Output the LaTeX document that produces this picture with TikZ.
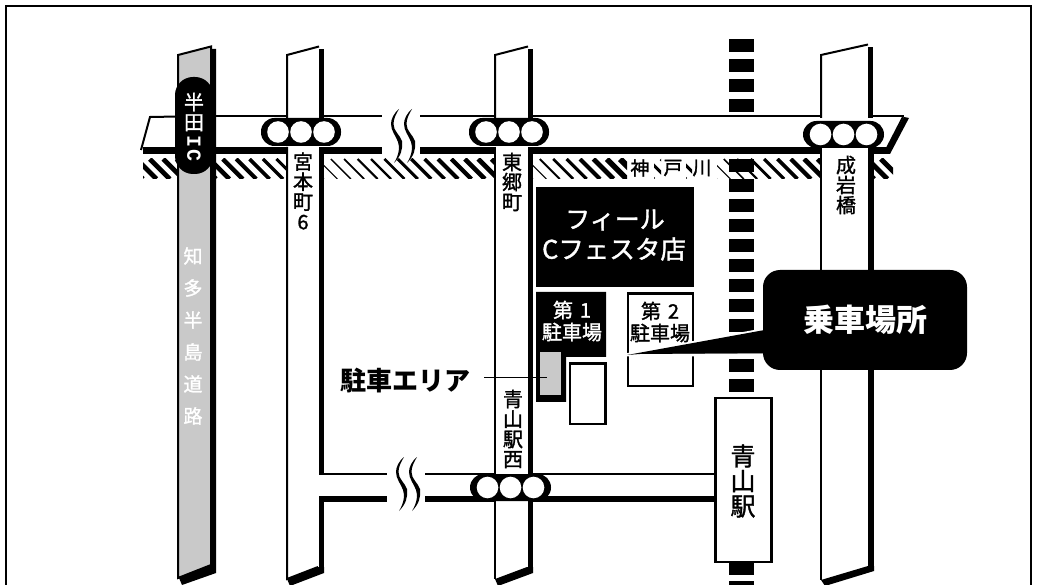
\documentclass[tikz,border=0pt]{standalone}
\usepackage{fontspec}
\setmainfont{Noto Sans CJK JP}
\newfontfamily\medf{Noto Sans CJK JP}[FakeBold=1.4]
\newfontfamily\icfont{Liberation Mono}
\definecolor{roadgray}{HTML}{C9C9C9}
\newcommand{\fsz}[1]{\fontsize{#1}{#1}\selectfont}
\newcommand{\hatchsec}[4]{%
  \begin{scope}
    \clip (#1,159) rectangle (#2,179);
    \foreach \k in {0,...,60}{
      \pgfmathsetmacro{\hx}{#1-20+13.4*\k}
      \pgfmathsetmacro{\hw}{#3+(#4-#3)*max(0,min(1,(\hx+10-#1)/(#2-#1)))}
      \ifdim\hx pt<#2pt
        \draw[line width=\hw pt] (\hx,159) -- (\hx+20,179);
      \fi
    }
  \end{scope}}
\newcommand{\squig}[2]{%
  \fill[black,shift={(#1,#2)}] (0,0) .. controls (-5,4) and (-8,10) .. (-8,15)
    .. controls (-8,22) and (-3,27) .. (-1,33) .. controls (1,38) and (0,46) .. (-5,54)
    .. controls (2,47) and (4,40) .. (3,32) .. controls (1,26) and (-5.5,22) .. (-5.5,15)
    .. controls (-5.5,10) and (-3,5) .. (0,0) -- cycle;}
\newcommand{\roadupper}[3]{% xl xr topright y
  \fill[white] (#1,55) -- (#2,#3) -- (#2,118) -- (#1,118) -- cycle;
  \draw[thinln] (#1,118) -- (#1,55) -- (#2,#3);
  \draw[thickln] (#2+2.5,#3+3) -- (#2+2.5,118);}
\newcommand{\signal}[5]{% xl xr ytop ybottom name
  \fill[black,rounded corners=13.5] (#1,#3) rectangle (#2,#4);
  \pgfmathsetmacro{\cy}{(#3+#4)/2}
  \pgfmathsetmacro{\cx}{(#1+#2)/2}
  \foreach \d in {-23,0,23}{
    \fill[white] (\cx+\d,\cy) circle (10.8);
  }}
\tikzset{
  thinln/.style={draw=black,line width=2pt,line join=miter},
  thickln/.style={draw=black,line width=5.5pt},
  vlabel/.style={inner sep=0pt,align=center,text=black},
  boxln/.style={draw=black,line width=2.2pt,fill=white}
}
\begin{document}
\begin{tikzpicture}[x=1pt,y=-1pt]
\useasboundingbox (0,0) rectangle (1037,585);
\fill[white] (0,0) rectangle (1037,585);
% frame
\draw[line width=2.2pt] (6,590) -- (6,6) -- (1031,6) -- (1031,590);
% hatching
\hatchsec{143}{178}{4.8}{4.8}
\hatchsec{216}{287}{4.8}{3}
\hatchsec{324}{495}{1}{5}
\hatchsec{533}{627}{1}{6}
\hatchsec{654}{661}{3}{3}
\hatchsec{686}{692}{3}{3}
\hatchsec{717}{821}{1}{5}
\hatchsec{874}{893}{5}{5}
% railway
\foreach \y in {39,59,79,99,119,139,159,179,199,219,239,259,279,299,319,339,359,379,562,581}{
  \fill[black] (729,\y) rectangle (754,\y+13);
}
% main horizontal road
\fill[white] (150,117) -- (141,150) -- (888,150) -- (904,117) -- cycle;
\draw[thinln] (178,116.5) -- (150,117) -- (141,150);
\draw[thinln] (216,116.5) -- (382,116.5);
\draw[thinln] (420,116.5) -- (904,116.5);
\draw[line width=7pt] (143,150.5) -- (382,150.5);
\draw[line width=7pt] (420,150.5) -- (888,150.5);
\fill[black] (904,117) -- (909,118) -- (890,154) -- (884,154) -- cycle;
\draw[thinln] (903,117) -- (886,150);
% lower road
\draw[thinln] (319,474) -- (387,474);
\draw[thinln] (425,474) -- (716,474);
\draw[line width=6pt] (319,499) -- (387,499);
\draw[line width=6pt] (425,499) -- (716,499);
% squiggles
\squig{399}{109}
\squig{412}{109}
\squig{404}{457}
\squig{417}{457}
% road 1: gray
\fill[black] (210,49) -- (216,49) -- (216,573) -- (182,585) -- (179,578) -- (210,565) -- cycle;
\filldraw[fill=roadgray,draw=black,line width=2pt] (178,55) -- (211,46.5) -- (211,565) -- (178,578) -- cycle;
% road 2
\roadupper{287}{319}{46.5}
\fill[white] (287,147) rectangle (319,579);
\fill[white] (312,475) rectangle (330,496);
\draw[thinln] (287,147) -- (287,579) -- (318,567);
\draw[thickln] (321.5,147) -- (321.5,475);
\draw[thickln] (321.5,496) -- (321.5,573);
\fill[black] (287,579) -- (318,567) -- (324,567) -- (324,573) -- (290,586) -- cycle;
% road 3
\roadupper{495}{528}{46.5}
\fill[white] (495,147) -- (528,147) -- (528,567) -- (495,579) -- cycle;
\draw[thinln] (495,147) -- (495,579);
\draw[thickln] (530.5,147) -- (530.5,573);
\fill[black] (495,579) -- (527,567) -- (533,567) -- (533,573) -- (498,586) -- cycle;
% road 4
\roadupper{821}{868}{44.5}
\fill[white] (821,147) -- (868,147) -- (868,566) -- (821,580) -- cycle;
\draw[thinln] (821,147) -- (821,580);
\draw[thickln] (871,147) -- (871,571);
\fill[black] (821,580) -- (868,566) -- (874,566) -- (874,571) -- (825,586) -- cycle;
% signals
\fill[black,rounded corners=18] (175,77) rectangle (213,174);
\signal{261}{341}{118}{146}{s1}
\signal{469}{549}{118}{146}{s2}
\signal{803}{884}{121}{148}{s3}
\signal{470}{551}{474}{501}{s4}
% buildings
\fill[black] (536,187) rectangle (694,287);
\fill[black] (536,292) -- (606,292) -- (606,357) -- (566,357) -- (566,402) -- (536,402) -- cycle;
\fill[roadgray] (540,352) rectangle (561,395);
\draw[boxln] (570,363.5) rectangle (605.5,424);
\draw[boxln] (628,293.5) rectangle (693,386);
% station
\draw[boxln] (715.5,398) rectangle (771.5,562);
% callout
\filldraw[draw=white,fill=black,line width=3pt,line join=miter] (625,355) -- (765,329.5) -- (765,355) -- cycle;
\fill[black] (627,355) -- (770,329) -- (770,353) -- (640,354) -- cycle;
\fill[black,rounded corners=17] (763,270) rectangle (967,370);
% labels
\node[vlabel,text=white,font=\medf\fsz{20}] (handa) at (194,112) {半\\田};
\node[vlabel,text=white,font=\icfont\fsz{20}\bfseries,rotate=-90] (ic) at (194,149) {I\kern2pt C};
\node[vlabel,text=white,font=\medf\fsz{19}] (chita) at (193,336) {知\\[13pt]多\\[13pt]半\\[13pt]島\\[13pt]道\\[13pt]路};
\node[vlabel,font=\medf\fsz{20}] (miya) at (303,191) {宮\\本\\町\\6};
\node[vlabel,font=\medf\fsz{20}] (togo) at (512,182) {東\\郷\\町};
\node[vlabel,font=\medf\fsz{20}] (nara) at (846,185) {成\\岩\\橋};
\node[vlabel,font=\medf\fsz{20}] (aoyamaw) at (513,429) {青\\山\\駅\\西};
\node[vlabel,font=\medf\fsz{25}] (aoyama) at (743,481) {青\\山\\駅};
\node[vlabel,font=\medf\fsz{19}] (kami) at (640,168) {神};
\node[vlabel,font=\medf\fsz{19}] (to) at (673,168) {戸};
\node[vlabel,font=\medf\fsz{19}] (kawa) at (702,168) {川};
\node[vlabel,text=white,font=\medf\fsz{25}] (feel) at (615,220) {フィール};
\node[vlabel,text=white,font=\medf\fsz{25.5}] (store) at (614,249) {Cフェスタ店};
\node[vlabel,text=white,font=\medf\fsz{20}] (p1a) at (572,310) {第\kern7pt 1};
\node[vlabel,text=white,font=\medf\fsz{20}] (p1b) at (572,332) {駐車場};
\node[vlabel,font=\medf\fsz{20}] (p2a) at (660,311) {第\kern7pt 2};
\node[vlabel,font=\medf\fsz{20}] (p2b) at (660,333) {駐車場};
\node[vlabel,font=\fsz{26}\bfseries] (area) at (405,381) {駐車エリア};
\node[vlabel,text=white,font=\fsz{31}\bfseries] (board) at (865,320) {乗車場所};
% leader
\coordinate (leadend) at (547,378);
\draw[line width=1pt] (484,378) -- (leadend);
\end{tikzpicture}
\end{document}
